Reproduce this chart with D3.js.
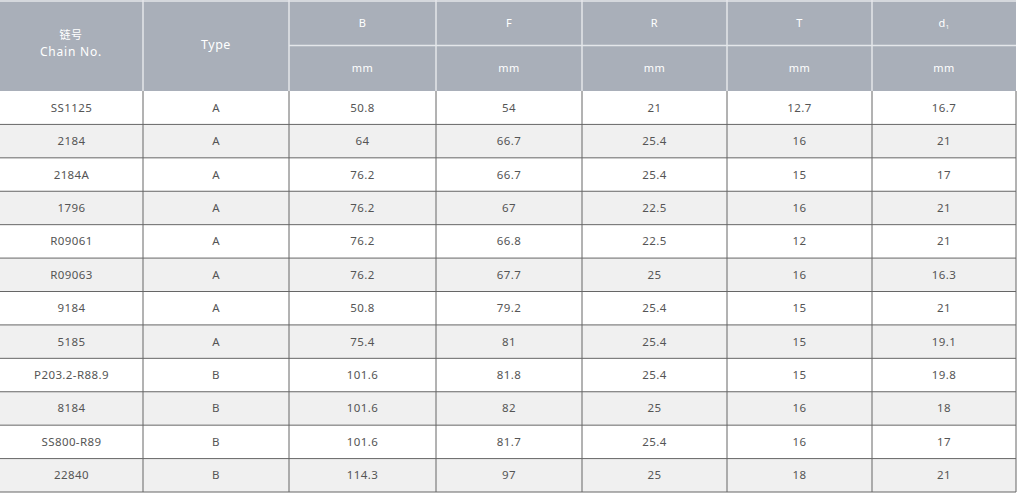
<!DOCTYPE html><html><head><meta charset="utf-8"><script src="https://cdn.jsdelivr.net/npm/d3@7"></script>
<style>body{margin:0;background:#fff}text{font-family:"Noto Sans","Noto Sans CJK SC",sans-serif}</style></head><body><svg id="c" width="1024" height="495"></svg><script>
const chains=["SS1125","2184","2184A","1796","R09061","R09063","9184","5185","P203.2-R88.9","8184","SS800-R89","22840"];
const types=["A","A","A","A","A","A","A","A","B","B","B","B"];
const B=["50.8","64","76.2","76.2","76.2","76.2","50.8","75.4","101.6","101.6","101.6","114.3"];
const F=["54","66.7","66.7","67","66.8","67.7","79.2","81","81.8","82","81.7","97"];
const R=["21","25.4","25.4","22.5","22.5","25","25.4","25.4","25.4","25","25.4","25"];
const T=["12.7","16","15","16","12","16","15","15","15","16","16","18"];
const D1=["16.7","21","17","21","21","16.3","21","19.1","19.8","18","17","21"];
const edges=[0,143,289,436,582,727,872,1016];
const svg=d3.select("#c");
const x=i=>edges[i];
const y=d3.scaleBand().domain(d3.range(12)).range([91,492]);
const hc="#a9afb9";
svg.append("rect").attr("x",0).attr("y",0).attr("width",1016).attr("height",91).attr("fill",hc);
const hl=svg.append("g").attr("stroke","#e4e6ea").attr("stroke-width",1.5);
[1,2,3,4,5,6].forEach(i=>hl.append("line").attr("x1",x(i)).attr("x2",x(i)).attr("y1",0).attr("y2",91));
hl.append("line").attr("x1",x(2)).attr("x2",1016).attr("y1",45.5).attr("y2",45.5);
hl.append("line").attr("x1",0).attr("x2",1016).attr("y1",1).attr("y2",1);
const ht=svg.append("g").attr("fill","#fff").attr("text-anchor","middle").attr("font-size",11).attr("letter-spacing",0.5);
ht.append("text").attr("x",71).attr("y",39).text("链号").attr("font-size",11);
ht.append("text").attr("x",71).attr("y",56).text("Chain No.").attr("font-size",12).attr("letter-spacing",0.8);
ht.append("text").attr("x",216).attr("y",49).text("Type").attr("font-size",12.5);
["B","F","R","T"].forEach((s,k)=>ht.append("text").attr("x",(x(k+2)+x(k+3))/2).attr("y",27).text(s));
const dt=ht.append("text").attr("x",(x(6)+x(7))/2).attr("y",27);dt.append("tspan").text("d");dt.append("tspan").attr("font-size",6).attr("dy",2).text("1");
for(let k=2;k<7;k++)ht.append("text").attr("x",(x(k)+x(k+1))/2).attr("y",72).text("mm");
const cols=[chains,types,B,F,R,T,D1];
const rows=svg.append("g");
d3.range(12).forEach(r=>{
 rows.append("rect").attr("x",0).attr("y",y(r)).attr("width",1016).attr("height",y.bandwidth()).attr("fill",r%2?"#f0f0f0":"#fff");
 cols.forEach((c,k)=>rows.append("text").attr("x",(x(k)+x(k+1))/2).attr("y",y(r)+y.bandwidth()/2+4).attr("text-anchor","middle").attr("font-size",11.5).attr("letter-spacing",0.4).attr("fill","#555").text(c[r]));
});
const bl=svg.append("g").attr("stroke","#666").attr("stroke-width",1);
d3.range(1,13).forEach(r=>{const yy=r<12?y(r):492;bl.append("line").attr("x1",0).attr("x2",1016).attr("y1",yy).attr("y2",yy);});
[1,2,3,4,5,6,7].forEach(i=>bl.append("line").attr("x1",x(i)).attr("x2",x(i)).attr("y1",91).attr("y2",492));
</script></body></html>
